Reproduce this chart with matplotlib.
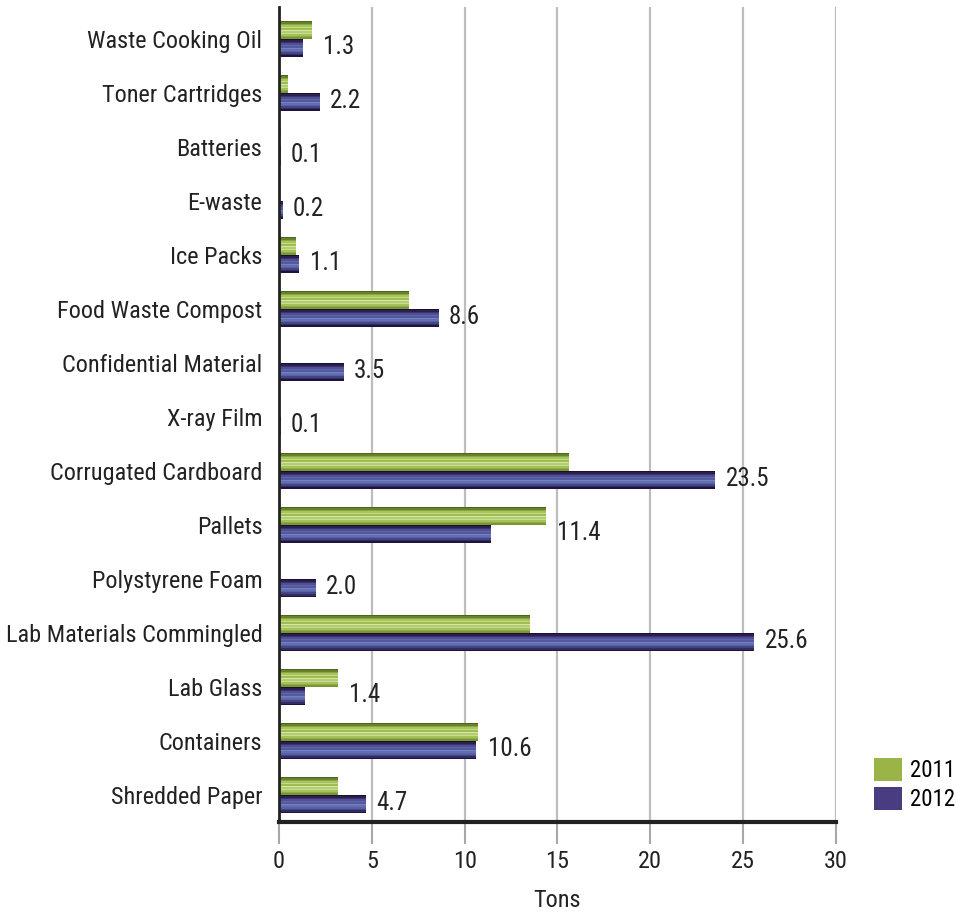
import numpy as np
import matplotlib
matplotlib.use("Agg")
import matplotlib.pyplot as plt
from matplotlib.patches import Patch
from matplotlib import font_manager

names = {f.name for f in font_manager.fontManager.ttflist}
for cand in ['Roboto Condensed', 'Liberation Sans Narrow', 'Roboto']:
    if cand in names:
        plt.rcParams['font.family'] = [cand, 'DejaVu Sans']
        break

# data (top to bottom as shown)
categories = ["Waste Cooking Oil", "Toner Cartridges", "Batteries", "E-waste",
              "Ice Packs", "Food Waste Compost", "Confidential Material",
              "X-ray Film", "Corrugated Cardboard", "Pallets", "Polystyrene Foam",
              "Lab Materials Commingled", "Lab Glass", "Containers", "Shredded Paper"]
tons_2011 = [1.8, 0.5, 0.1, 0.0, 0.9, 7.0, 0.0, 0.0, 15.6, 14.4, 0.0, 13.5, 3.2, 10.7, 3.2]
tons_2012 = [1.3, 2.2, 0.1, 0.2, 1.1, 8.6, 3.5, 0.1, 23.5, 11.4, 2.0, 25.6, 1.4, 10.6, 4.7]

# stripe shading, top -> bottom of each bar
green_stripes = ["#4c661b", "#66832a", "#88a73d", "#a9c45e", "#c3da88", "#9fbb52",
                 "#d3e6a4", "#b4cd72", "#c8dd92", "#a6c159", "#8fac42", "#789735"]
purple_stripes = ["#1c0f30", "#2b1f52", "#3b3472", "#4f4f92", "#6069a8", "#5259a0",
                  "#7480bf", "#646fb1", "#5660a2", "#434585", "#312a63", "#1e1440"]

n = len(categories)
ypos = np.arange(n)[::-1]
h = 0.335
fs = 17.5

fig = plt.figure(figsize=(9.56, 9.13), dpi=100)
ax = fig.add_axes([0.2918, 0.0997, 0.5827, 0.8926])


def striped_barh(ax, y_bottom, vals, stripes):
    k = len(stripes)
    sh = h / k
    for j, c in enumerate(stripes):
        # j=0 is the top stripe
        yb = y_bottom + h - (j + 1) * sh
        ax.barh(yb, vals, height=sh * 1.02, align='edge', color=c,
                linewidth=0, zorder=3)


striped_barh(ax, ypos, tons_2011, green_stripes)
striped_barh(ax, ypos - h, tons_2012, purple_stripes)

# value labels after the longer bar
for y, a, b in zip(ypos, tons_2011, tons_2012):
    ax.text(max(a, b) + 0.55, y - h * 0.45, f"{b:.1f}", va='center', ha='left',
            fontsize=fs + 0.5, color='#222222', zorder=4)

ax.set_xlim(0, 30)
ax.set_ylim(-0.5, n - 0.41)
ax.set_xticks(np.arange(0, 31, 5))
ax.set_yticks(ypos)
ax.set_yticklabels(categories)
ax.tick_params(axis='y', length=0, pad=12, labelsize=fs, labelcolor='#222222')
ax.tick_params(axis='x', length=16, width=1.5, color='#a8a8a8', pad=4,
               labelsize=fs, labelcolor='#222222')
ax.xaxis.grid(True, color='#bdbdbd', linewidth=1.6, zorder=0)
ax.set_axisbelow(True)

for s in ['top', 'right']:
    ax.spines[s].set_visible(False)
ax.spines['left'].set_color('#222222')
ax.spines['left'].set_linewidth(2)
ax.spines['bottom'].set_color('#222222')
ax.spines['bottom'].set_linewidth(3)
ax.spines['left'].set_zorder(5)

ax.set_xlabel("Tons", fontsize=fs, color='#222222', labelpad=12)

handles = [Patch(facecolor='#9ab447', label='2011'),
           Patch(facecolor='#4a3c80', label='2012')]
fig.legend(handles=handles, loc='lower left', bbox_to_anchor=(0.902, 0.099),
           frameon=False, fontsize=16.5, handlelength=1.25, handleheight=1.2,
           handletextpad=0.35, labelspacing=0.2, borderpad=0)

fig.savefig("out.png", dpi=100)
